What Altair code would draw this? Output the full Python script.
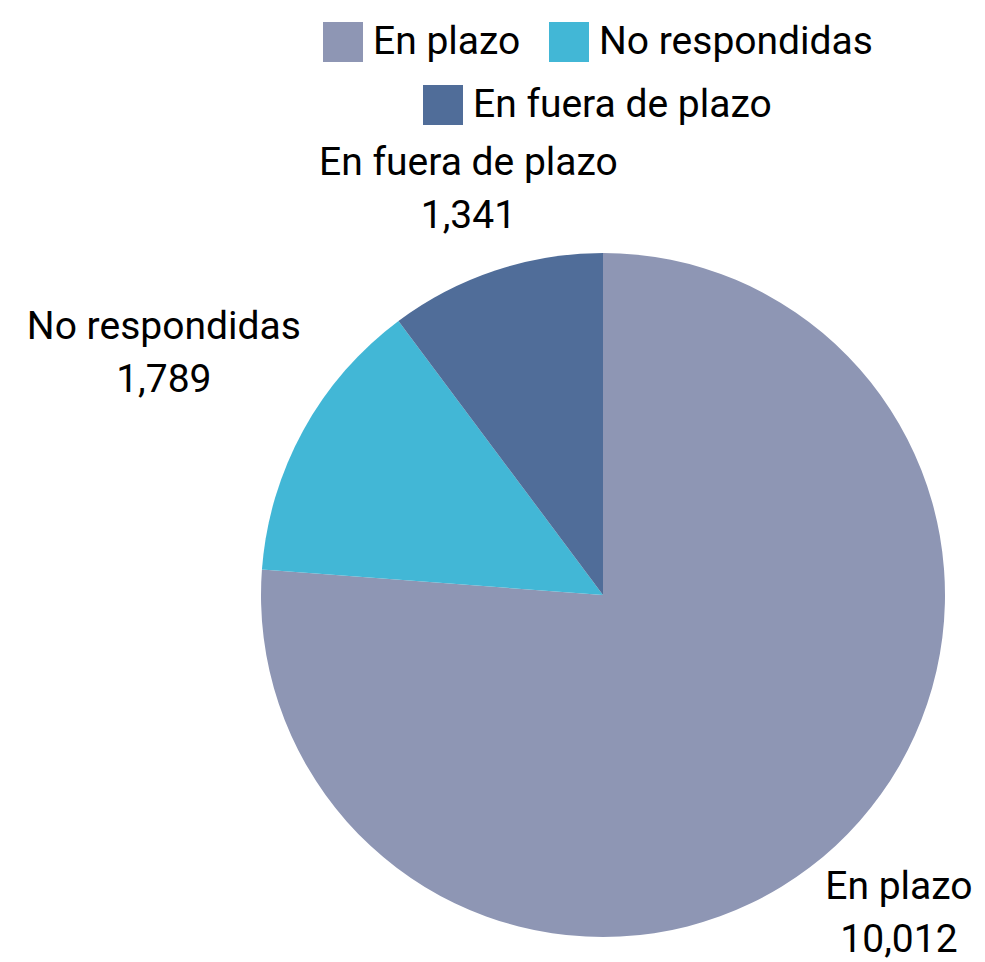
import math
import altair as alt
import pandas as pd

categories = ["En plazo", "No respondidas", "En fuera de plazo"]
values = [10012, 1789, 1341]
colors = ["#8E96B4", "#42B7D6", "#506D99"]

total = sum(values)
df = pd.DataFrame({"cat": categories, "value": values, "order": list(range(len(categories)))})

FONT = "Roboto"
FS = 39
LH = 53
CX, CY, R = 595, 587, 342
label_radius = {"En plazo": 435, "No respondidas": 501, "En fuera de plazo": 427}

base = alt.Chart(df).transform_window(
    cum="sum(value)", sort=[alt.SortField("order")], frame=[None, 0]
).transform_calculate(
    start="datum.cum - datum.value",
    mid="datum.cum - datum.value / 2",
    label="datum.cat + '\\n' + format(datum.value, ',')",
)

theta_scale = alt.Scale(domain=[0, total], range=[0, 2 * math.pi])


def legend(x, y):
    return alt.Legend(
        title=None, orient="none", legendX=x, legendY=y, direction="horizontal",
        symbolType="square", symbolSize=1600, symbolStrokeWidth=0,
        labelFontSize=FS, labelFont=FONT, labelColor="black", labelOffset=10,
        columnPadding=28, padding=0, labelLimit=400,
    )


arcA = base.transform_filter(
    alt.FieldOneOfPredicate(field="cat", oneOf=categories[:2])
).mark_arc(radius=R).encode(
    theta=alt.Theta("start:Q", scale=theta_scale),
    theta2="cum:Q",
    fill=alt.Fill("cat:N", scale=alt.Scale(domain=categories[:2], range=colors[:2]),
                  legend=legend(315, 14)),
    x=alt.value(CX), y=alt.value(CY),
)

arcB = base.transform_filter(
    alt.FieldOneOfPredicate(field="cat", oneOf=categories[2:])
).mark_arc(radius=R).encode(
    theta=alt.Theta("start:Q", scale=theta_scale),
    theta2="cum:Q",
    fill=alt.Fill("cat:N", scale=alt.Scale(domain=categories[2:], range=colors[2:]),
                  legend=legend(415, 77)),
    x=alt.value(CX), y=alt.value(CY),
)

texts = []
for c in categories:
    t = base.transform_filter(alt.datum.cat == c).mark_text(
        font=FONT, fontSize=FS, color="black", lineBreak="\n", lineHeight=LH,
        align="center", baseline="middle", dy=-LH / 2,
    ).encode(
        theta=alt.Theta("mid:Q", scale=theta_scale),
        radius=alt.value(label_radius[c]),
        text="label:N",
        x=alt.value(CX), y=alt.value(CY),
    )
    texts.append(t)

chart = alt.layer(arcA, arcB, *texts).resolve_scale(fill="independent").properties(
    width=969, height=954, autosize=alt.AutoSizeParams(type="none"), padding=0,
).configure_view(stroke=None)

chart.save("out.html", embed_options={"renderer": "svg", "actions": False})
